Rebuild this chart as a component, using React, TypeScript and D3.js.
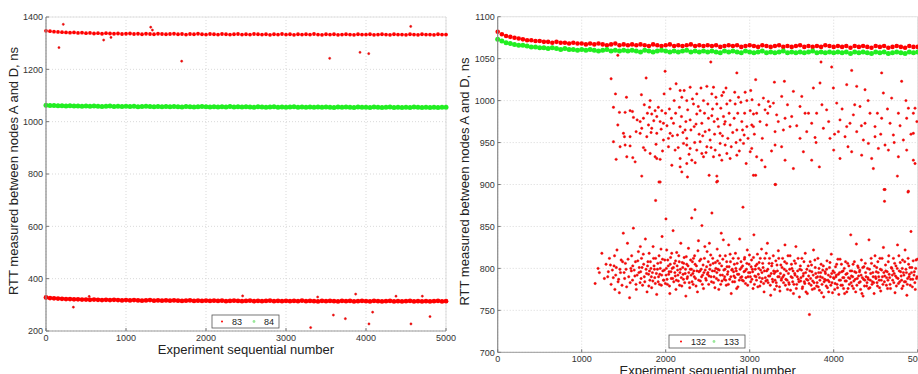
import React, { useEffect, useRef } from "react";
import * as d3 from "d3";

const xTicks = [0, 1000, 2000, 3000, 4000, 5000];
const yTicksLeft = [200, 400, 600, 800, 1000, 1200, 1400];
const yTicksRight = [700, 750, 800, 850, 900, 950, 1000, 1050, 1100];

// the dense bands: one value read every 50 experiments
const bandStep = 50;

const node83High = [
  1347, 1346, 1344, 1343, 1342, 1341, 1340, 1341, 1339, 1340,
  1338, 1339, 1337, 1338, 1336, 1338, 1337, 1336, 1337, 1335,
  1336, 1337, 1335, 1336, 1334, 1336, 1335, 1334, 1336, 1335,
  1334, 1335, 1336, 1334, 1335, 1333, 1335, 1334, 1336, 1334,
  1333, 1335, 1334, 1333, 1335, 1334, 1333, 1334, 1335, 1333,
  1334, 1333, 1335, 1334, 1333, 1334, 1332, 1334, 1333, 1335,
  1333, 1334, 1332, 1334, 1333, 1334, 1333, 1335, 1333, 1332,
  1334, 1333, 1334, 1332, 1333, 1334, 1333, 1332, 1334, 1333,
  1333, 1334, 1332, 1333, 1334, 1333, 1332, 1334, 1333, 1333,
  1332, 1334, 1333, 1332, 1334, 1333, 1333, 1332, 1334, 1333, 1333,
];

const node83Low = [
  328, 326, 325, 324, 323, 322, 322, 321, 321, 320,
  320, 319, 320, 319, 318, 319, 318, 319, 318, 317,
  318, 317, 318, 317, 316, 317, 318, 316, 317, 316,
  317, 316, 317, 316, 315, 316, 317, 315, 316, 315,
  316, 315, 316, 315, 316, 314, 315, 316, 315, 314,
  315, 316, 314, 315, 314, 315, 316, 314, 315, 314,
  315, 314, 315, 314, 316, 314, 315, 314, 313, 315,
  314, 315, 314, 313, 315, 314, 315, 313, 314, 315,
  314, 313, 315, 314, 313, 314, 315, 313, 314, 313,
  314, 315, 313, 314, 313, 314, 313, 314, 315, 313, 314,
];

const node84 = [
  1063, 1062, 1062, 1061, 1061, 1060, 1061, 1060, 1060, 1059,
  1060, 1059, 1060, 1059, 1058, 1059, 1060, 1058, 1059, 1058,
  1059, 1058, 1059, 1057, 1058, 1059, 1058, 1057, 1058, 1057,
  1058, 1057, 1058, 1057, 1056, 1058, 1057, 1056, 1057, 1058,
  1057, 1056, 1057, 1056, 1057, 1056, 1058, 1056, 1057, 1056,
  1057, 1056, 1055, 1057, 1056, 1055, 1056, 1057, 1055, 1056,
  1055, 1056, 1057, 1055, 1056, 1055, 1056, 1055, 1056, 1055,
  1056, 1055, 1054, 1056, 1055, 1056, 1055, 1054, 1056, 1055,
  1055, 1054, 1056, 1055, 1054, 1055, 1056, 1054, 1055, 1054,
  1055, 1054, 1056, 1055, 1054, 1055, 1054, 1055, 1054, 1055, 1055,
];

const node83Outliers = [
  [162, 1283], [216, 1372], [721, 1312], [812, 1322], [1309, 1361], [1330, 1350],
  [1696, 1231], [3546, 1242], [3925, 1265], [4034, 1260], [4559, 1364],
  [342, 291], [540, 332], [2458, 334], [3396, 330], [3592, 261], [3742, 247],
  [3308, 213], [3871, 341], [4083, 272], [4037, 227], [4375, 333], [4562, 227],
  [4704, 333], [4800, 255],
];

const node132Band = [
  1082, 1079, 1077, 1076, 1075, 1074, 1073, 1072, 1072, 1071,
  1071, 1070, 1070, 1069, 1070, 1069, 1069, 1068, 1069, 1068,
  1068, 1067, 1068, 1067, 1068, 1067, 1066, 1067, 1068, 1066,
  1067, 1066, 1067, 1066, 1067, 1066, 1065, 1067, 1066, 1065,
  1066, 1067, 1065, 1066, 1065, 1066, 1067, 1065, 1066, 1065,
  1066, 1065, 1066, 1064, 1065, 1066, 1065, 1066, 1064, 1065,
  1066, 1065, 1064, 1066, 1065, 1064, 1065, 1066, 1064, 1065,
  1064, 1065, 1066, 1064, 1065, 1064, 1065, 1064, 1066, 1065,
  1064, 1065, 1064, 1065, 1063, 1065, 1064, 1065, 1064, 1063,
  1065, 1064, 1065, 1063, 1064, 1065, 1064, 1063, 1065, 1064, 1064,
];

const node133Band = [
  1073, 1071, 1069, 1068, 1067, 1066, 1066, 1065, 1064, 1064,
  1063, 1063, 1062, 1063, 1062, 1061, 1062, 1061, 1061, 1060,
  1061, 1060, 1061, 1060, 1059, 1060, 1061, 1059, 1060, 1059,
  1060, 1059, 1060, 1059, 1058, 1060, 1059, 1058, 1059, 1060,
  1059, 1058, 1059, 1058, 1059, 1060, 1058, 1059, 1058, 1059,
  1058, 1059, 1058, 1057, 1059, 1058, 1059, 1058, 1057, 1059,
  1058, 1057, 1058, 1059, 1057, 1058, 1057, 1058, 1059, 1057,
  1058, 1057, 1058, 1057, 1058, 1059, 1057, 1058, 1057, 1058,
  1057, 1058, 1057, 1058, 1056, 1058, 1057, 1058, 1057, 1056,
  1058, 1057, 1058, 1056, 1057, 1058, 1057, 1056, 1058, 1057, 1058,
];

// upper cloud of node 132 (about 920..1030 ns)
const node132Upper = [
  [1430, 1054], [1350, 1026], [1767, 1027], [1993, 1035], [2537, 1046], [2847, 1033],
  [1402, 1008], [1533, 1004], [1711, 1007], [1378, 992], [1449, 986], [1517, 986],
  [1576, 988], [1604, 987], [1616, 980], [1660, 977], [1696, 975], [1735, 979],
  [1715, 967], [1795, 971], [1834, 984], [1807, 992], [1815, 1000], [1874, 988],
  [1894, 981], [1934, 975], [1954, 988], [1981, 1008], [2053, 1014], [2124, 1020],
  [2172, 1012], [2192, 1004], [2251, 1000], [2291, 1016], [2331, 996], [2370, 1008],
  [2410, 988], [2450, 1000], [2490, 1017], [2549, 1008], [2569, 1016], [2609, 996],
  [2668, 1006], [2688, 1010], [2728, 996], [2767, 1000], [2827, 996], [2867, 1004],
  [2946, 1010], [2966, 1000], [3006, 988], [3045, 984], [1430, 971], [1497, 961],
  [1509, 957], [1576, 957], [1648, 963], [1696, 961], [1775, 957], [1834, 967],
  [1894, 961], [1973, 973], [2033, 955], [2053, 961], [2093, 973], [2140, 959],
  [2172, 969], [2231, 965], [2251, 955], [2291, 977], [2339, 969], [2370, 984],
  [2430, 973], [2470, 963], [2509, 979], [2549, 982], [2577, 975], [2628, 969],
  [2648, 961], [2688, 981], [2708, 975], [2767, 971], [2815, 979], [2847, 965],
  [2906, 975], [2934, 959], [2966, 969], [3025, 971], [1378, 951], [1457, 945],
  [1517, 947], [1576, 946], [1735, 944], [1755, 941], [1815, 937], [1874, 933],
  [1934, 930], [1973, 953], [2033, 945], [2112, 941], [2172, 931], [2212, 949],
  [2251, 947], [2291, 943], [2311, 929], [2370, 941], [2410, 951], [2450, 933],
  [2490, 945], [2529, 953], [2589, 941], [2648, 949], [2708, 947], [2728, 937],
  [2767, 931], [2847, 935], [2887, 953], [2926, 949], [2958, 925], [3006, 939],
  [1410, 930], [1537, 933], [1608, 932], [1636, 927], [1894, 931], [2073, 923],
  [2172, 921], [2251, 925], [2351, 926], [2430, 937], [2569, 933], [2668, 929],
  [1715, 910], [1934, 903], [2259, 909], [2517, 911], [2609, 910], [2617, 904],
  [2192, 915], [3045, 911],
  [3071, 1025], [3294, 1022], [3413, 1023], [3849, 1046], [3976, 1040], [4214, 1036],
  [4571, 1033], [4809, 1023], [3028, 1001], [3163, 1003], [3222, 999], [3282, 997],
  [3381, 1005], [3520, 1011], [3758, 1015], [3837, 1021], [3996, 1015], [4155, 1019],
  [4274, 1017], [4373, 1013], [4591, 1009], [4690, 1003], [4889, 991], [4968, 991],
  [3083, 985], [3183, 989], [3242, 993], [3321, 983], [3421, 979], [3500, 981],
  [3599, 993], [3659, 985], [3738, 973], [3797, 985], [3916, 989], [4036, 997],
  [4075, 977], [4155, 969], [4234, 983], [4313, 993], [4373, 973], [4432, 985],
  [4492, 969], [4571, 979], [4671, 973], [4770, 985], [4869, 979], [4948, 985],
  [3044, 969], [3123, 975], [3202, 971], [3302, 963], [3401, 965], [3480, 969],
  [3599, 955], [3679, 963], [3778, 956], [3877, 967], [3956, 955], [4056, 963],
  [4135, 957], [4194, 973], [4274, 963], [4353, 953], [4413, 949], [4492, 957],
  [4532, 943], [4611, 947], [4710, 959], [4829, 953], [4869, 941], [4948, 961],
  [3024, 943], [3083, 933], [3143, 929], [3183, 921], [3302, 947], [3421, 929],
  [3520, 919], [3639, 939], [3738, 929], [3829, 921], [4000, 941], [4075, 931],
  [4214, 939], [4333, 935], [4452, 931], [4472, 919], [4651, 941], [4770, 933],
  [4948, 929], [4968, 925], [3071, 911], [3302, 900], [4611, 894], [4758, 910],
  [4889, 892],
  [1745, 995], [1782, 985], [1826, 962], [1858, 976], [1885, 948], [1912, 992],
  [1946, 966], [1962, 940], [1998, 985], [2015, 970], [2044, 990], [2068, 979],
  [2081, 958], [2101, 1000], [2118, 985], [2149, 944], [2163, 992], [2188, 981],
  [2205, 962], [2220, 1012], [2240, 975], [2262, 989], [2278, 936], [2300, 965],
  [2318, 1002], [2345, 950], [2361, 972], [2388, 993], [2398, 960], [2420, 1015],
  [2441, 958], [2462, 985], [2480, 938], [2502, 996], [2518, 965], [2540, 944],
  [2558, 990], [2582, 960], [2598, 1004], [2618, 978], [2640, 935], [2656, 991],
  [2676, 958], [2698, 972], [2718, 1015], [2740, 955], [2755, 985], [2780, 945],
  [2798, 962], [2822, 1010], [2838, 950], [2858, 985], [2876, 940], [2895, 998],
  [2915, 965], [2940, 985], [2980, 955], [3012, 1012], [3055, 960], [3110, 995],
  [3150, 955], [3215, 985], [3260, 940], [3340, 975], [3380, 945], [3450, 995],
  [3560, 970], [3620, 1005], [3700, 985], [3790, 950], [3860, 995], [3940, 975],
  [4010, 960], [4100, 990], [4170, 945], [4250, 995], [4330, 970], [4410, 1000],
  [4520, 985], [4560, 960], [4640, 990], [4720, 950], [4790, 970], [4860, 1000],
  [4920, 960], [4990, 975],
];

// lower cloud of node 132 (about 760..870 ns)
const node132Lower = [
  [1160, 782], [1195, 800], [1210, 795], [1240, 818], [1270, 788], [1290, 805],
  [1310, 790], [1330, 812], [1350, 781], [1365, 798], [1385, 803], [1395, 775],
  [1405, 792], [1420, 822], [1440, 787], [1455, 799], [1470, 810], [1480, 780], [1495, 842],
  [1505, 795], [1520, 806], [1535, 778], [1545, 830], [1560, 790], [1570, 765], [1585, 800], [1595, 815],
  [1605, 786], [1615, 848], [1625, 798], [1640, 808], [1650, 775], [1660, 792], [1675, 820], [1685, 801], [1695, 783],
  [1702, 796], [1712, 812], [1725, 780], [1738, 805], [1745, 790], [1758, 835], [1766, 799], [1778, 772], [1788, 808], [1796, 793],
  [1803, 818], [1812, 786], [1824, 800], [1833, 777], [1842, 795], [1850, 826], [1861, 803], [1870, 789], [1880, 812], [1893, 769],
  [1880, 881], [1920, 903], [2003, 859],
  [1902, 799], [1910, 784], [1921, 815], [1930, 793], [1940, 807], [1948, 780], [1957, 838], [1966, 797], [1978, 786], [1990, 810],
  [2004, 792], [2012, 822], [2020, 781], [2031, 803], [2040, 796], [2049, 770], [2058, 813], [2066, 788], [2077, 800], [2088, 845], [2096, 784],
  [2105, 806], [2114, 791], [2122, 775], [2131, 819], [2142, 798], [2150, 785], [2161, 808], [2170, 795], [2180, 830], [2192, 779],
  [2203, 801], [2211, 787], [2220, 813], [2232, 794], [2240, 767], [2251, 805], [2260, 790], [2271, 824], [2280, 783], [2292, 799],
  [2302, 792], [2310, 860], [2318, 808], [2327, 781], [2335, 797], [2344, 815], [2349, 870], [2355, 788], [2366, 803], [2378, 772], [2390, 833], [2396, 796],
  [2404, 809], [2413, 785], [2422, 799], [2431, 851], [2440, 792], [2450, 776], [2461, 812], [2470, 798], [2482, 786], [2493, 820],
  [2503, 795], [2512, 781], [2520, 830], [2531, 804], [2540, 790], [2550, 866], [2560, 812], [2570, 783], [2581, 797], [2592, 807],
  [2604, 788], [2607, 903], [2613, 823], [2622, 799], [2632, 775], [2641, 806], [2650, 792], [2661, 842], [2670, 785], [2680, 811], [2692, 798],
  [2702, 790], [2710, 815], [2721, 780], [2730, 802], [2741, 796], [2750, 828], [2762, 787], [2771, 808], [2780, 770], [2792, 799],
  [2803, 812], [2812, 791], [2821, 784], [2830, 818], [2840, 797], [2851, 806], [2860, 778], [2870, 793], [2881, 835], [2892, 789],
  [2902, 801], [2911, 786], [2920, 873], [2932, 796], [2940, 813], [2950, 782], [2961, 799], [2971, 822], [2980, 790], [2992, 805],
  [3004, 795], [3012, 784], [3022, 810], [3031, 799], [3040, 776], [3050, 840], [3061, 791], [3070, 803], [3081, 786], [3092, 817],
  [3103, 793], [3112, 807], [3121, 779], [3130, 798], [3141, 823], [3150, 788], [3160, 801], [3171, 772], [3180, 812], [3192, 785],
  [3203, 797], [3211, 830], [3220, 783], [3231, 806], [3240, 791], [3250, 768], [3262, 803], [3270, 787], [3281, 815], [3292, 794],
  [3302, 786], [3308, 900], [3311, 809], [3320, 779], [3330, 797], [3341, 821], [3350, 790], [3360, 773], [3371, 804], [3380, 788], [3392, 812],
  [3403, 783], [3412, 799], [3420, 828], [3431, 787], [3440, 806], [3450, 775], [3461, 794], [3470, 781], [3481, 815], [3492, 790],
  [3503, 800], [3512, 784], [3521, 770], [3531, 809], [3540, 792], [3550, 826], [3560, 781], [3571, 797], [3580, 787], [3592, 766],
  [3603, 803], [3611, 789], [3621, 812], [3630, 778], [3641, 794], [3650, 784], [3661, 818], [3670, 772], [3681, 799], [3692, 786],
  [3702, 791], [3711, 745], [3720, 808], [3731, 780], [3740, 796], [3750, 785], [3760, 822], [3771, 776], [3780, 801], [3792, 789],
  [3803, 783], [3812, 812], [3821, 795], [3830, 774], [3841, 790], [3850, 805], [3861, 781], [3870, 798], [3881, 766], [3892, 787],
  [3902, 794], [3911, 779], [3920, 809], [3932, 786], [3940, 772], [3950, 801], [3961, 790], [3971, 817], [3980, 783], [3992, 797],
  [4004, 788], [4012, 775], [4022, 802], [4031, 792], [4040, 781], [4050, 811], [4061, 769], [4070, 795], [4081, 786], [4092, 805],
  [4103, 780], [4112, 797], [4121, 789], [4130, 770], [4141, 808], [4150, 785], [4160, 794], [4171, 776], [4180, 803], [4192, 788],
  [4203, 840], [4211, 791], [4220, 779], [4231, 805], [4240, 785], [4250, 796], [4262, 772], [4270, 829], [4281, 788], [4292, 801],
  [4302, 783], [4311, 798], [4320, 775], [4330, 810], [4341, 789], [4350, 767], [4360, 802], [4371, 786], [4380, 795], [4392, 779],
  [4403, 800], [4412, 787], [4420, 834], [4431, 777], [4440, 794], [4450, 806], [4461, 784], [4470, 790], [4481, 770], [4492, 815],
  [4503, 788], [4512, 801], [4521, 779], [4530, 795], [4541, 786], [4550, 812], [4560, 773], [4571, 798], [4580, 790], [4592, 825],
  [4600, 894], [4605, 880], [4603, 784], [4620, 797], [4630, 789], [4641, 776], [4650, 808], [4660, 793], [4671, 781], [4692, 800],
  [4702, 786], [4711, 812], [4720, 794], [4730, 771], [4741, 803], [4750, 789], [4760, 828], [4771, 782], [4780, 797], [4792, 807],
  [4803, 791], [4812, 776], [4820, 810], [4830, 795], [4841, 784], [4850, 822], [4860, 799], [4871, 768], [4880, 788], [4885, 891], [4892, 805],
  [4902, 793], [4911, 780], [4920, 844], [4930, 801], [4941, 787], [4960, 796], [4971, 775], [4980, 810], [4992, 790],
];

// second pass over the lower cloud: the dense core around 780..810 ns
const node132Core = [
  [1317, 796], [1342, 804], [1376, 789], [1391, 815],
  [1412, 801], [1433, 784], [1462, 795], [1487, 808], [1448, 771],
  [1511, 788], [1528, 799], [1552, 811], [1577, 783], [1591, 797],
  [1608, 803], [1633, 791], [1646, 781], [1668, 809], [1681, 795], [1698, 826],
  [1707, 788], [1719, 801], [1733, 817], [1751, 784], [1772, 794], [1784, 803], [1799, 779],
  [1807, 797], [1818, 808], [1829, 790], [1847, 785], [1856, 812], [1866, 799], [1876, 782], [1889, 794],
  [1906, 806], [1915, 790], [1926, 781], [1935, 800], [1944, 823], [1953, 792], [1962, 811], [1973, 786], [1985, 798], [1996, 782],
  [2008, 800], [2016, 787], [2025, 810], [2036, 793], [2045, 779], [2054, 805], [2063, 796], [2072, 818], [2083, 788], [2092, 801],
  [2109, 795], [2118, 809], [2127, 786], [2136, 803], [2146, 792], [2156, 815], [2165, 780], [2175, 799], [2186, 789], [2197, 807],
  [2207, 793], [2215, 806], [2226, 783], [2236, 799], [2245, 814], [2255, 788], [2266, 803], [2275, 795], [2286, 777], [2297, 810],
  [2306, 799], [2314, 784], [2323, 794], [2331, 812], [2340, 790], [2350, 805], [2361, 779], [2372, 797], [2384, 821], [2393, 786],
  [2408, 797], [2418, 811], [2427, 790], [2436, 781], [2445, 804], [2455, 795], [2466, 826], [2476, 788], [2487, 802], [2497, 793],
  [2507, 808], [2516, 791], [2525, 799], [2536, 816], [2545, 784], [2555, 797], [2565, 806], [2575, 790], [2586, 777], [2597, 800],
  [2609, 795], [2618, 809], [2627, 786], [2637, 798], [2646, 815], [2655, 781], [2666, 803], [2675, 792], [2686, 834], [2697, 787],
  [2706, 799], [2715, 786], [2726, 808], [2735, 793], [2746, 781], [2755, 802], [2767, 817], [2776, 790], [2786, 798], [2797, 784],
  [2808, 796], [2817, 805], [2826, 789], [2835, 800], [2845, 776], [2856, 793], [2865, 812], [2876, 786], [2886, 799], [2897, 808],
  [2906, 790], [2916, 803], [2925, 785], [2937, 811], [2945, 797], [2955, 789], [2966, 806], [2976, 780], [2986, 795], [2997, 816],
  [3008, 790], [3017, 802], [3027, 787], [3036, 796], [3045, 813], [3056, 781], [3066, 799], [3075, 790], [3086, 805], [3097, 778],
  [3108, 800], [3117, 789], [3126, 812], [3135, 784], [3146, 795], [3155, 806], [3166, 782], [3176, 797], [3186, 789], [3197, 818],
  [3208, 786], [3216, 799], [3225, 791], [3236, 812], [3245, 780], [3256, 794], [3266, 806], [3276, 784], [3286, 797], [3297, 775],
  [3307, 796], [3316, 783], [3325, 804], [3335, 790], [3346, 812], [3355, 778], [3366, 794], [3376, 786], [3386, 801], [3397, 790],
  [3408, 792], [3416, 808], [3425, 780], [3436, 797], [3445, 786], [3456, 815], [3466, 783], [3476, 799], [3486, 774], [3497, 805],
  [3507, 789], [3516, 797], [3526, 781], [3536, 794], [3545, 806], [3555, 776], [3566, 790], [3576, 812], [3586, 784], [3597, 799],
  [3607, 785], [3616, 798], [3626, 776], [3636, 791], [3646, 808], [3656, 782], [3666, 795], [3676, 787], [3686, 770], [3697, 803],
  [3707, 782], [3716, 797], [3725, 788], [3736, 804], [3746, 775], [3756, 792], [3766, 783], [3776, 810], [3786, 794], [3797, 779],
  [3808, 790], [3816, 778], [3825, 800], [3836, 786], [3846, 795], [3856, 771], [3866, 789], [3876, 803], [3886, 784], [3897, 796],
  [3907, 786], [3916, 799], [3926, 777], [3936, 792], [3946, 784], [3956, 807], [3966, 780], [3976, 794], [3986, 771], [3997, 789],
  [4008, 795], [4017, 782], [4027, 790], [4036, 805], [4046, 777], [4056, 793], [4066, 786], [4076, 811], [4086, 780], [4097, 796],
  [4108, 789], [4117, 776], [4126, 800], [4136, 785], [4146, 793], [4156, 772], [4166, 806], [4176, 789], [4186, 781], [4197, 797],
  [4208, 783], [4216, 797], [4226, 790], [4236, 776], [4246, 808], [4256, 787], [4266, 795], [4276, 780], [4286, 803], [4297, 791],
  [4307, 796], [4316, 784], [4326, 792], [4336, 770], [4346, 801], [4356, 787], [4366, 779], [4376, 806], [4386, 790], [4397, 783],
  [4407, 789], [4416, 776], [4426, 799], [4436, 786], [4446, 812], [4456, 781], [4466, 795], [4476, 783], [4486, 803], [4497, 790],
  [4507, 796], [4516, 783], [4526, 808], [4536, 790], [4546, 777], [4556, 799], [4566, 786], [4576, 812], [4586, 781], [4597, 795],
  [4608, 791], [4617, 804], [4627, 780], [4637, 796], [4646, 786], [4656, 815], [4666, 789], [4676, 776], [4686, 801], [4697, 792],
  [4707, 797], [4716, 783], [4726, 806], [4736, 791], [4746, 779], [4756, 800], [4766, 788], [4776, 815], [4786, 784], [4797, 796],
  [4808, 786], [4816, 800], [4826, 779], [4836, 792], [4846, 808], [4856, 784], [4866, 795], [4876, 781], [4886, 812], [4897, 790],
  [4907, 801], [4916, 787], [4926, 795], [4936, 778], [4946, 809], [4956, 792], [4966, 783], [4976, 800], [4986, 788], [4997, 811],
];

const RED = "#ff0000";
const GREEN = "#22ee22";
const FONT = "'Liberation Sans', Arial, sans-serif";

const band = (vals) => vals.map((v, i) => [i * bandStep, v]);

function drawPanel(svg, cfg) {
  const x = d3.scaleLinear().domain([0, 5000]).range([cfg.left, cfg.right]);
  const y = d3.scaleLinear().domain(cfg.yDomain).range([cfg.bottom, cfg.top]);
  const g = svg.append("g");

  // grid
  g.selectAll(".gx").data(xTicks).join("line")
    .attr("x1", (d) => x(d)).attr("x2", (d) => x(d))
    .attr("y1", cfg.top).attr("y2", cfg.bottom)
    .attr("stroke", "#cfcfcf").attr("stroke-width", 0.8).attr("stroke-dasharray", "1,2");
  g.selectAll(".gy").data(cfg.yTicks).join("line")
    .attr("x1", cfg.left).attr("x2", cfg.right)
    .attr("y1", (d) => y(d)).attr("y2", (d) => y(d))
    .attr("stroke", "#cfcfcf").attr("stroke-width", 0.8).attr("stroke-dasharray", "1,2");

  // box
  g.append("line").attr("x1", cfg.right).attr("x2", cfg.right).attr("y1", cfg.top).attr("y2", cfg.bottom)
    .attr("stroke", "#dddddd");
  g.append("line").attr("x1", cfg.left).attr("x2", cfg.right).attr("y1", cfg.top).attr("y2", cfg.top)
    .attr("stroke", "#e4e4e4");

  // points
  cfg.layers.forEach((layer) => {
    g.append("g").selectAll("circle").data(layer.points).join("circle")
      .attr("cx", (d) => x(d[0])).attr("cy", (d) => y(d[1]))
      .attr("r", layer.r).attr("fill", layer.color)
      .attr("stroke", layer.stroke || "none").attr("stroke-width", 0.5);
  });

  // axes
  g.append("line").attr("x1", cfg.left).attr("x2", cfg.left).attr("y1", cfg.top).attr("y2", cfg.bottom)
    .attr("stroke", "#8a8a8a").attr("stroke-width", 1.2);
  g.append("line").attr("x1", cfg.left).attr("x2", cfg.right).attr("y1", cfg.bottom).attr("y2", cfg.bottom)
    .attr("stroke", "#9a9a9a").attr("stroke-width", 1);
  g.selectAll(".ty").data(cfg.yTicks).join("line")
    .attr("x1", cfg.left).attr("x2", cfg.left + 3).attr("y1", (d) => y(d)).attr("y2", (d) => y(d))
    .attr("stroke", "#777");
  g.selectAll(".tx").data(xTicks).join("line")
    .attr("x1", (d) => x(d)).attr("x2", (d) => x(d)).attr("y1", cfg.bottom).attr("y2", cfg.bottom - 3)
    .attr("stroke", "#777");

  g.selectAll(".ly").data(cfg.yTicks).join("text")
    .attr("x", cfg.left - 3).attr("y", (d) => y(d) + 3.2)
    .attr("text-anchor", "end").style("font-family", FONT).style("font-size", "9px").attr("fill", "#333")
    .text((d) => d);
  g.selectAll(".lx").data(xTicks).join("text")
    .attr("x", (d) => x(d)).attr("y", cfg.bottom + 9.5)
    .attr("text-anchor", "middle").style("font-family", FONT).style("font-size", "9px").attr("fill", "#333")
    .text((d) => d);

  g.append("text").attr("x", (cfg.left + cfg.right) / 2).attr("y", cfg.bottom + 22.5)
    .attr("text-anchor", "middle").style("font-family", FONT).style("font-size", "13px").attr("fill", "#222")
    .text("Experiment sequential number");
  g.append("text")
    .attr("transform", `translate(${cfg.left - 28.5}, ${(cfg.top + cfg.bottom) / 2 - 3}) rotate(-90)`)
    .attr("text-anchor", "middle").style("font-family", FONT).style("font-size", "13px").attr("fill", "#222")
    .text("RTT measured between nodes A and D, ns");

  // legend
  const lg = cfg.legend;
  g.append("rect").attr("x", lg.x).attr("y", lg.y).attr("width", lg.w).attr("height", 13)
    .attr("fill", "white").attr("stroke", "#555").attr("stroke-width", 0.8);
  lg.labels.forEach((lab, i) => {
    const mx = lg.x + lg.pad + i * lg.itemW;
    g.append("circle").attr("cx", mx).attr("cy", lg.y + 6.5).attr("r", i === 0 ? 1 : 1.4)
      .attr("fill", i === 0 ? RED : "#9be89b");
    g.append("text").attr("x", mx + 10).attr("y", lg.y + 10)
      .style("font-family", FONT).style("font-size", "9px").attr("fill", "#222").text(lab);
  });
}

export default function App() {
  const ref = useRef(null);

  useEffect(() => {
    const svg = d3.select(ref.current);
    svg.selectAll("*").remove();

    drawPanel(svg, {
      left: 46, right: 446, top: 17, bottom: 331,
      yDomain: [200, 1400], yTicks: yTicksLeft,
      layers: [
        { points: band(node83High), color: RED, r: 1.9 },
        { points: band(node83Low), color: RED, r: 2.4 },
        { points: node83Outliers, color: RED, r: 1.1, stroke: "#c22" },
        { points: band(node84), color: GREEN, r: 2.5 },
      ],
      legend: { x: 212, y: 315, w: 67, pad: 10, itemW: 32, labels: ["83", "84"] },
    });

    drawPanel(svg, {
      left: 497.7, right: 917.7, top: 16.7, bottom: 352.3,
      yDomain: [700, 1100], yTicks: yTicksRight,
      layers: [
        { points: band(node132Band), color: RED, r: 2.3 },
        { points: node132Upper, color: RED, r: 1.2, stroke: "#d22" },
        { points: node132Lower, color: RED, r: 1.2, stroke: "#d22" },
        { points: node132Core, color: RED, r: 1.2, stroke: "#d22" },
        { points: band(node133Band), color: GREEN, r: 2.5 },
      ],
      legend: { x: 669, y: 335, w: 76, pad: 12, itemW: 33, labels: ["132", "133"] },
    });
  }, []);

  return (
    <svg ref={ref} width={918} height={374}
      style={{ position: "absolute", left: 0, top: 0, background: "white" }} />
  );
}
